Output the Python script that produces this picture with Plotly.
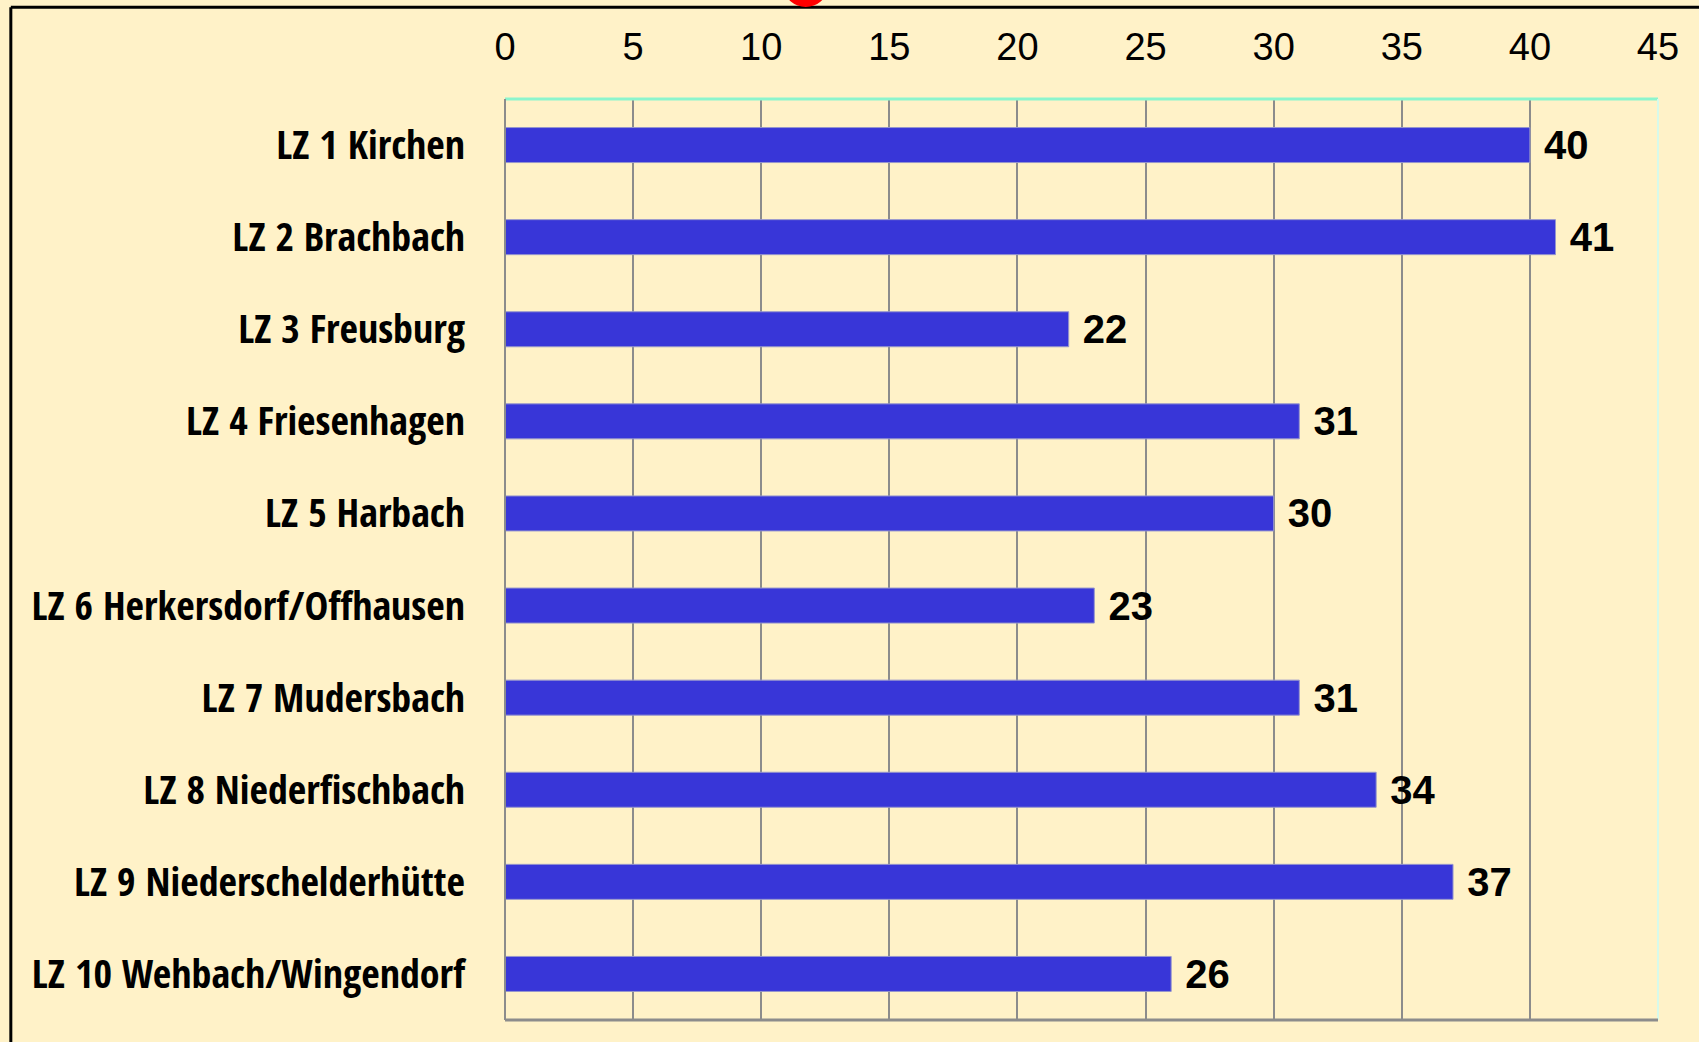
import plotly.graph_objects as go

# data
loeschzuege = [
    'LZ 1 Kirchen',
    'LZ 2 Brachbach',
    'LZ 3 Freusburg',
    'LZ 4 Friesenhagen',
    'LZ 5 Harbach',
    'LZ 6 Herkersdorf/Offhausen',
    'LZ 7 Mudersbach',
    'LZ 8 Niederfischbach',
    'LZ 9 Niederschelderhütte',
    'LZ 10 Wehbach/Wingendorf',
]
anzahl = [40, 41, 22, 31, 30, 23, 31, 34, 37, 26]
x_ticks = [0, 5, 10, 15, 20, 25, 30, 35, 40, 45]

bg = 'rgb(255,242,200)'
bar_blue = 'rgb(56,54,216)'
grid_grey = 'rgb(140,140,140)'
aqua = 'rgb(140,245,205)'
condensed = 'Open Sans Condensed, Roboto Condensed, sans-serif'
normal = 'Liberation Sans, Arial, sans-serif'

fig = go.Figure()

fig.add_trace(
    go.Bar(
        x=anzahl,
        y=loeschzuege,
        orientation='h',
        marker_color=bar_blue,
        marker_line_color='rgb(150,150,205)',
        marker_line_width=1,
        text=anzahl,
        texttemplate='\u00a0%{x}',
        textposition='outside',
        constraintext='none',
        cliponaxis=False,
        textfont=dict(family=normal, size=40, color='black', weight='bold'),
        hoverinfo='skip',
    )
)

fig.update_xaxes(
    side='top',
    range=[0, 45],
    tickvals=x_ticks,
    ticktext=[str(t) for t in x_ticks],
    tickfont=dict(family=normal, size=38, color='black'),
    ticklabelstandoff=30,
    showgrid=True,
    gridcolor=grid_grey,
    gridwidth=2,
    zeroline=False,
    showline=False,
    ticks='',
    automargin=False,
)

fig.update_yaxes(
    autorange='reversed',
    tickfont=dict(family=condensed, size=40, color='black', weight=600),
    ticklabelstandoff=39,
    showgrid=False,
    zeroline=False,
    showline=False,
    ticks='',
    automargin=False,
)

# frame lines of the plot area and the outer border of the picture
fig.update_layout(
    shapes=[
        dict(type='line', xref='paper', yref='paper', x0=0, x1=1, y0=1, y1=1,
             line=dict(color=aqua, width=3)),
        dict(type='line', xref='paper', yref='paper', x0=1, x1=1, y0=0, y1=1,
             line=dict(color='rgb(215,250,235)', width=2)),
        dict(type='line', xref='paper', yref='paper', x0=0, x1=0, y0=0, y1=1,
             line=dict(color=grid_grey, width=2)),
        dict(type='line', xref='paper', yref='paper', x0=0, x1=1, y0=0, y1=0,
             line=dict(color=grid_grey, width=3)),
        dict(type='line', xref='paper', yref='paper', x0=-0.4286, x1=1.05, y0=1.0995, y1=1.0995,
             line=dict(color='black', width=3)),
        dict(type='line', xref='paper', yref='paper', x0=-0.4286, x1=-0.4286, y0=-0.05, y1=1.0995,
             line=dict(color='black', width=3)),
        dict(type='circle', xref='paper', yref='paper', x0=0.2425, x1=0.2792, y0=1.100, y1=1.14,
             fillcolor='red', line=dict(color='red', width=0)),
    ],
)

fig.update_layout(
    width=1699,
    height=1042,
    paper_bgcolor=bg,
    plot_bgcolor=bg,
    showlegend=False,
    bargap=0.62,
    margin=dict(l=505, r=41, t=99, b=22, pad=0),
)

fig.write_html('out.html', config={'displayModeBar': False},
               post_script="document.body.style.margin='0';document.body.style.background='rgb(255,242,200)';")
